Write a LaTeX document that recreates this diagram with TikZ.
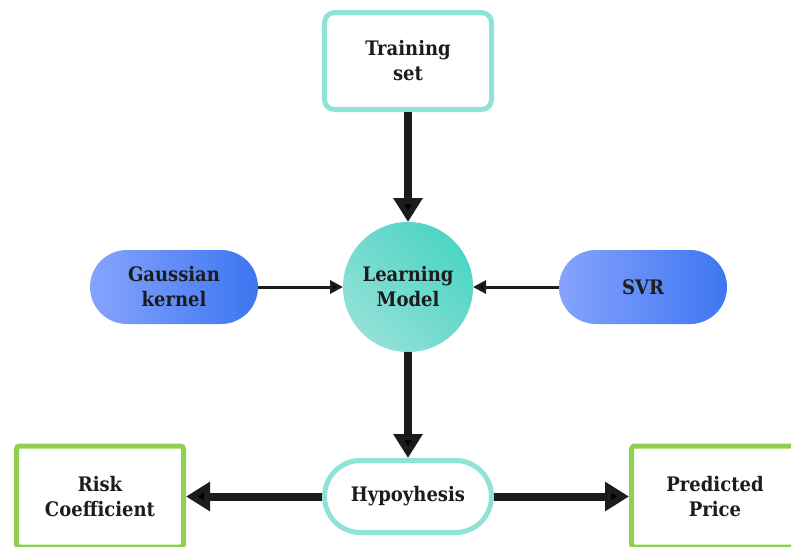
\documentclass[tikz,border=0pt]{standalone}
\usepackage{fontspec}
\setmainfont{DejaVu Serif Condensed}
\usetikzlibrary{arrows.meta}

\definecolor{tealline}{HTML}{8EE2D6}
\definecolor{tealdark}{HTML}{4CD5C4}
\definecolor{teallight}{HTML}{93E0D7}
\definecolor{blueleft}{HTML}{86A3FD}
\definecolor{blueright}{HTML}{3D76F1}
\definecolor{greenline}{HTML}{8FD14F}
\definecolor{inktext}{HTML}{1C1C1C}

\begin{document}
\begin{tikzpicture}[->,>={Triangle[length=24pt,width=28pt]},line width=8pt,
      font=\fontsize{20}{25}\selectfont\bfseries,text=inktext,
      teal box/.style={draw=tealline,line width=5pt,fill=white,align=center,minimum width=167pt},
      green box/.style={draw=greenline,line width=5pt,fill=white,align=center,
        minimum width=167pt,minimum height=101pt,rounded corners=3pt},
      blue pill/.style={draw=none,outer sep=0pt,left color=blueleft,right color=blueright,align=center,
        minimum width=168pt,minimum height=74pt,rounded corners=37pt},
      learn node/.style={circle,draw=none,outer sep=0pt,top color=tealdark,bottom color=teallight,
        shading angle=-45,align=center,minimum size=130pt},
      thin arrow/.style={line width=3pt,-{Triangle[length=13pt,width=13pt]}}]

    \clip (0pt,0pt) rectangle (791pt,-546pt);

    \node[learn node] (lm) at (408pt,-287pt) {Learning\\Model};
    \node[teal box,minimum height=97pt,rounded corners=10pt] (ts) [above of=lm,node distance=226pt] {Training\\set};
    \node[blue pill] (gk) [left of=lm,node distance=234pt] {Gaussian\\kernel};
    \node[blue pill] (svr) [right of=lm,node distance=235pt] {SVR};
    \node[teal box,minimum height=72pt,rounded corners=36pt] (hyp) [below of=lm,node distance=209.5pt] {Hypoyhesis};
    \node[green box] (rc) [left of=hyp,node distance=308pt] {Risk\\Coefficient};
    \node[green box] (pp) [right of=hyp,node distance=307pt] {Predicted\\Price};

    \path[draw=inktext]
    (ts) edge (lm)
    (gk) edge [thin arrow] (lm)
    (svr) edge [thin arrow] (lm)
    (lm) edge (hyp)
    (hyp) edge (rc)
    (hyp) edge (pp)
    ;
  \end{tikzpicture}
\end{document}
